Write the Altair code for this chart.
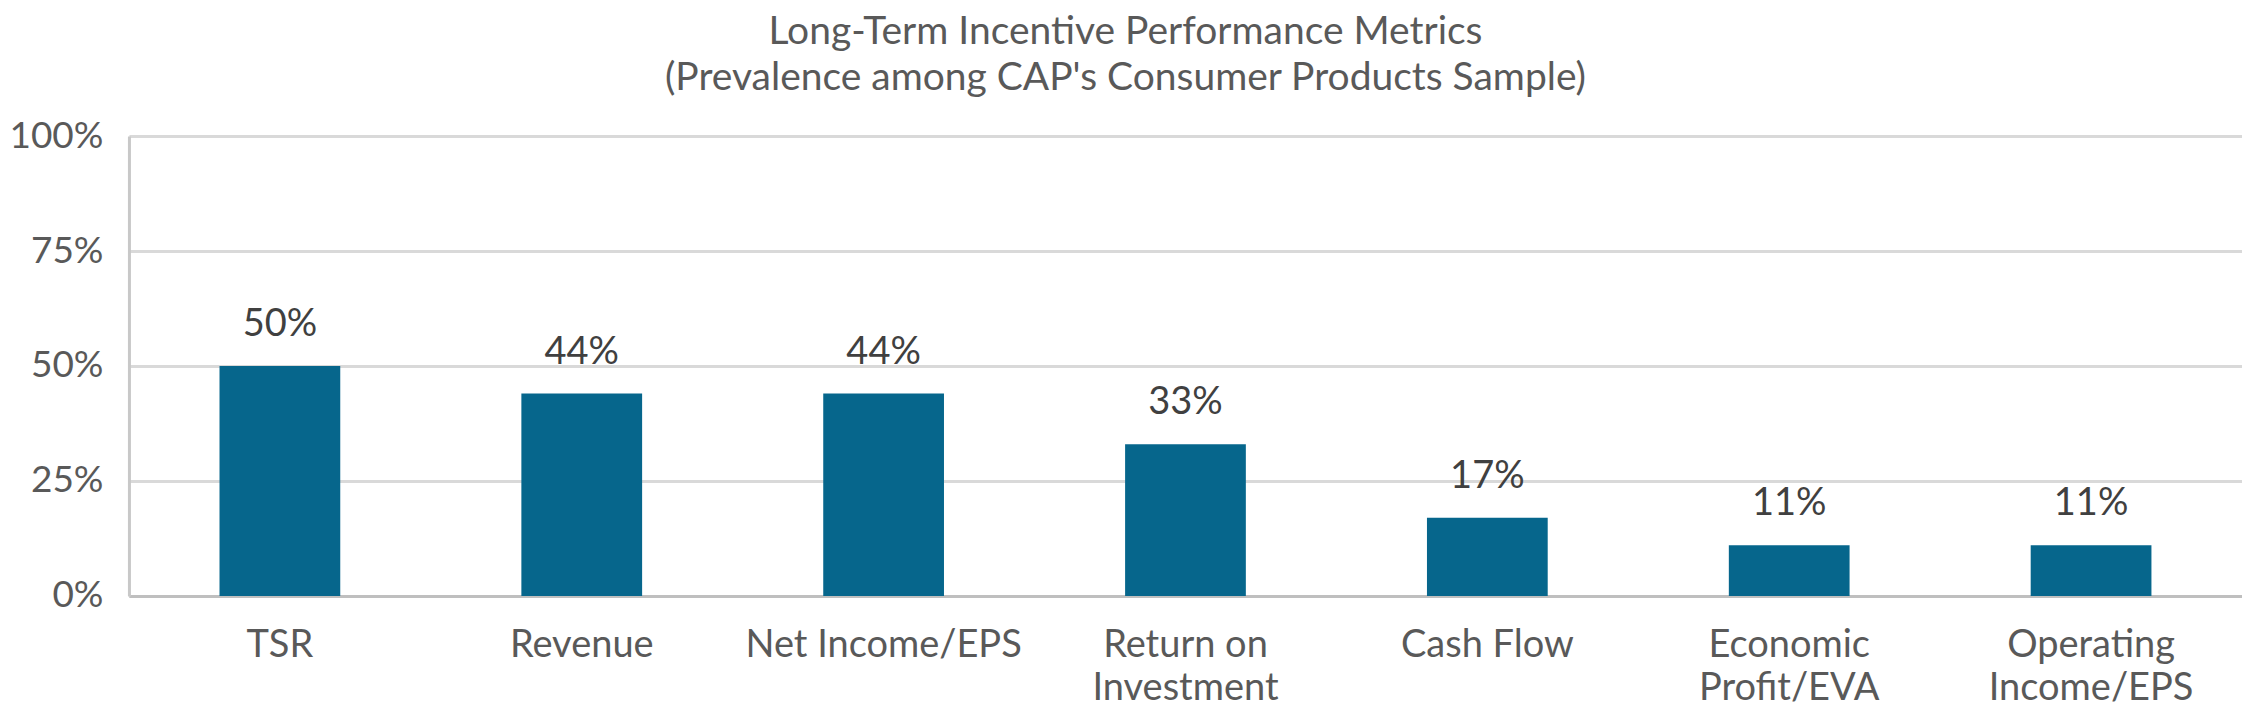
import altair as alt
import pandas as pd

categories = ["TSR", "Revenue", "Net Income/EPS", "Return on\nInvestment", "Cash Flow",
              "Economic\nProfit/EVA", "Operating\nIncome/EPS"]
values = [0.50, 0.44, 0.44, 0.33, 0.17, 0.11, 0.11]
labels = ["50%", "44%", "44%", "33%", "17%", "11%", "11%"]
y_ticks = [0, 0.25, 0.5, 0.75, 1.0]
title_lines = ["Long-Term Incentive Performance Metrics",
               "(Prevalence among CAP's Consumer Products Sample)"]

df = pd.DataFrame({"metric": categories, "value": values, "label": labels})

FONT = "Lato"
BAR = "#06668C"

x = alt.X("metric:N", sort=categories, title=None,
          scale=alt.Scale(paddingInner=0.6, paddingOuter=0.3),
          axis=alt.Axis(labelAngle=0, labelFont=FONT, labelFontSize=38, labelColor="#595959",
                        labelPadding=31, labelLineHeight=43, ticks=False, labelLimit=0,
                        labelExpr="split(datum.label, '\\n')",
                        domainColor="#BFBFBF", domainWidth=3, grid=False))
y = alt.Y("value:Q", title=None,
          scale=alt.Scale(domain=[0, 1]),
          axis=alt.Axis(values=y_ticks, format=".0%", labelFont=FONT, labelFontSize=37,
                        labelColor="#595959", labelPadding=26, ticks=False,
                        domainColor="#C8C8C8", domainWidth=3,
                        gridColor="#D9D9D9", gridWidth=3))

bars = alt.Chart(df).mark_bar(color=BAR).encode(x=x, y=y)
text = alt.Chart(df).mark_text(font=FONT, fontSize=38, color="#404040", baseline="alphabetic",
                               dy=-30).encode(x=alt.X("metric:N", sort=categories),
                                              y="value:Q", text="label:N")

chart = (bars + text).properties(
    width=2114, height=460,
    autosize=alt.AutoSizeParams(type="none"),
    padding={"left": 121, "top": 128, "right": 0, "bottom": 114},
    title=alt.TitleParams(text=title_lines, font=FONT, fontSize=39, fontWeight="normal",
                          color="#595959", anchor="middle", frame="bounds",
                          lineHeight=46, offset=19),
).configure_view(stroke=None)

chart.save("out.html", embed_options={"renderer": "svg", "actions": False})
